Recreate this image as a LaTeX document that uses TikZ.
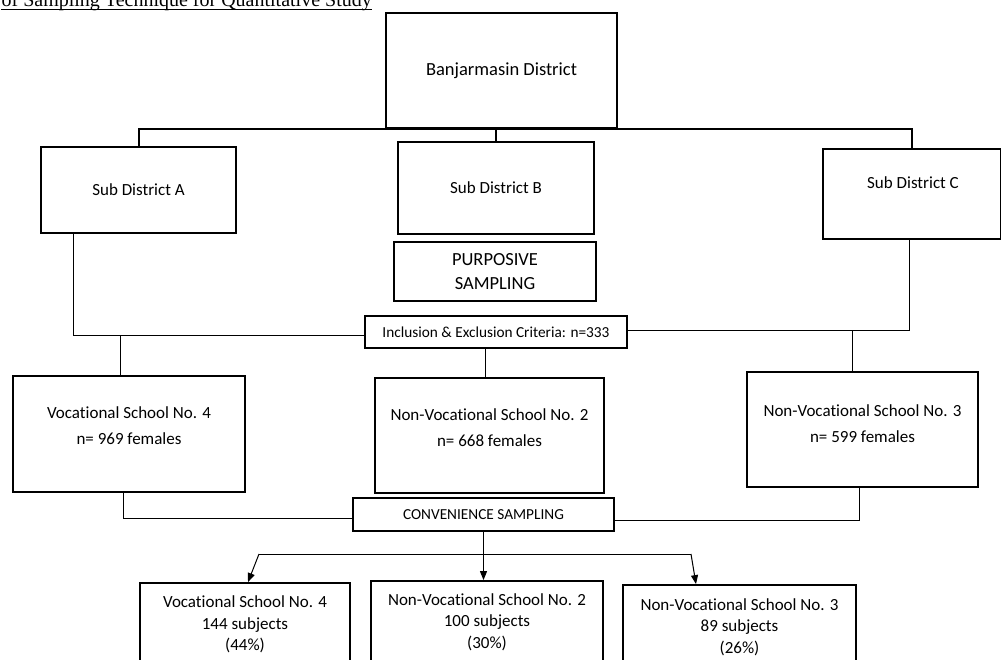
\documentclass[tikz,border=0pt]{standalone}
\usepackage{fontspec}
\setmainfont{Carlito}[Ligatures=NoCommon]
\newfontfamily\titlefont{Liberation Serif}
\usetikzlibrary{arrows.meta}
\begin{document}
\begin{tikzpicture}[x=1pt,y=-1pt,
  box/.style={draw,line width=1.8pt,inner sep=0pt,rectangle},
  thinbox/.style={draw,line width=1.4pt,inner sep=0pt,rectangle},
  txt/.style={inner sep=0pt,align=center},
  fbig/.style={font=\fontsize{18.5}{24}\selectfont},
  fmid/.style={font=\fontsize{17}{26}\selectfont},
  fsmall/.style={font=\fontsize{15.3}{18}\selectfont},
  fbot/.style={font=\fontsize{17}{21.5}\selectfont},
  trunk/.style={line width=2pt},
  conn/.style={line width=1pt},
  arr/.style={line width=1pt,-{Triangle[length=9pt,width=7pt]}}]
\useasboundingbox (0,0) rectangle (1001,659);
\clip (0,0) rectangle (1001,659);
% title
\node[anchor=base east,inner sep=0pt,font=\titlefont\fontsize{20}{24}\selectfont] (title) at (372,6.5) {of Sampling Technique for Quantitative Study};
\draw[line width=1pt] ([yshift=-3pt]title.base west) -- ([yshift=-3pt]title.base east);
% top level
\node[box,fbig,minimum width=231pt,minimum height=115pt] (bd) at (501.5,70.5) {Banjarmasin District};
\node[box,fmid,minimum width=195pt,minimum height=86pt] (sa) at (138.5,190) {Sub District A};
\node[box,fmid,minimum width=196pt,minimum height=92pt] (sb) at (496,188) {Sub District B};
\node[box,minimum width=178pt,minimum height=90pt] (sc) at (912,194) {};
\node[txt,fmid] (sct) at (913,183) {Sub District C};
\node[box,fbig,align=center,minimum width=202pt,minimum height=59pt] (pur) at (495,271.5) {PURPOSIVE\\SAMPLING};
\node[thinbox,fsmall,minimum width=262pt,minimum height=32pt] (inc) at (496,332) {Inclusion \& Exclusion Criteria: n=333};
% schools
\node[box,minimum width=232pt,minimum height=116pt] (v4) at (129,434) {};
\node[txt,fmid] (v4t) at (129,426) {Vocational School No. 4\\n= 969 females};
\node[box,minimum width=229pt,minimum height=115pt] (n2) at (489.5,435.5) {};
\node[txt,fmid] (n2t) at (489.5,428) {Non-Vocational School No. 2\\n= 668 females};
\node[box,minimum width=231pt,minimum height=115pt] (n3) at (862.5,429.5) {};
\node[txt,fmid] (n3t) at (862.5,423.5) {Non-Vocational School No. 3\\n= 599 females};
\node[box,fsmall,minimum width=261pt,minimum height=33pt] (conv) at (483.5,514.5) {CONVENIENCE SAMPLING};
% bottom
\node[box,minimum width=210pt,minimum height=117pt] (b1) at (245,641.5) {};
\node[txt,fbot] (b1t) at (245,624.5) {Vocational School No. 4\\144 subjects\\(44\%)};
\node[box,minimum width=232pt,minimum height=119pt] (b2) at (487,640.5) {};
\node[txt,fbot] (b2t) at (487,622) {Non-Vocational School No. 2\\100 subjects\\(30\%)};
\node[box,minimum width=233pt,minimum height=115pt] (b3) at (739.5,642.5) {};
\node[txt,fbot] (b3t) at (739.5,627) {Non-Vocational School No. 3\\89 subjects\\(26\%)};
% top tree
\draw[trunk] (sa.north) |- (sc.north |- bd.south) -- (sc.north);
\draw[trunk] (sb.north) -- (sb.north |- bd.south);
% to inclusion
\draw[conn] ([xshift=33pt]sa.south west) |- ([yshift=-3pt]inc.west);
\draw[conn] ([xshift=-3pt]sc.south) |- ([yshift=2pt]inc.east);
\coordinate (ja) at (120,335);
\coordinate (jc) at (852,330);
\draw[conn] (ja) -- (ja |- v4.north);
\draw[conn] ([xshift=-4pt]n2.north) -- ([xshift=-4pt]n2.north |- inc.south);
\draw[conn] (jc) -- (jc |- n3.north);
% to convenience
\draw[conn] ([xshift=-6pt]v4.south) |- ([yshift=-3.5pt]conv.west);
\draw[conn] ([xshift=-3.5pt]n3.south) |- ([yshift=-5.5pt]conv.east);
% arrows
\coordinate (hl) at (259,554);
\coordinate (hr) at (691,554);
\draw[conn] (hl) -- (hr);
\draw[arr] (hl) -- ([xshift=3pt]b1.north);
\draw[arr] (conv.south) -- (conv.south |- b2.north);
\draw[arr] (hr) -- ([xshift=-43.5pt]b3.north);
\end{tikzpicture}
\end{document}
